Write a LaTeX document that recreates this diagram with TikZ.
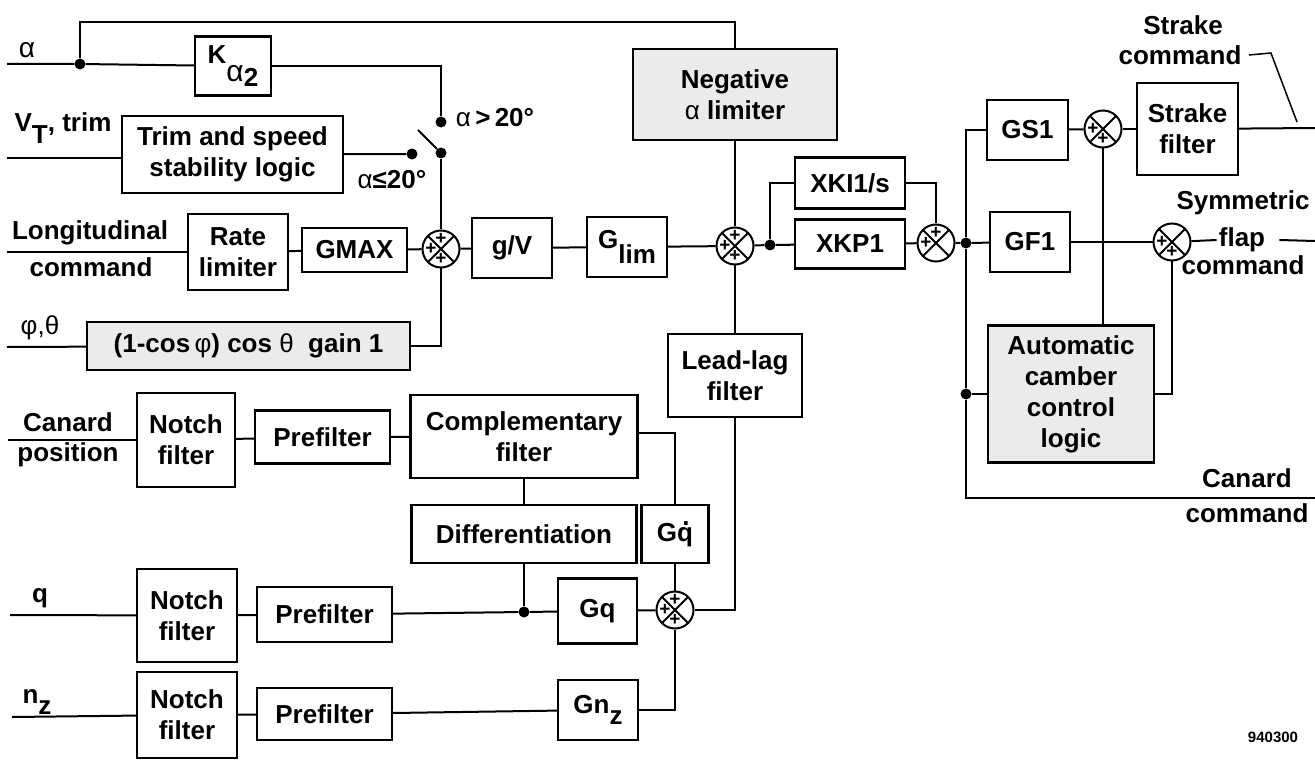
\documentclass[tikz,border=0pt]{standalone}
\usepackage{fontspec}
\setmainfont{Liberation Sans}
\newcommand{\lowsub}[2][0.45em]{\raisebox{-#1}{#2}}
\newcommand{\dotq}{\makebox[0pt][l]{\hspace{0.2em}\raisebox{0.62em}{.}}q}
\begin{document}
\begin{tikzpicture}[x=1pt, y=-1pt,
    font=\bfseries\fontsize{26}{31}\selectfont,
    blk/.style={draw, line width=2.4pt, align=center, inner sep=2pt},
    shd/.style={blk, fill=black!8},
    sumjn/.style={circle, draw, line width=2pt, minimum size=37pt, inner sep=0pt,
        path picture={\draw[line width=1.8pt]
            (path picture bounding box.north west) -- (path picture bounding box.south east)
            (path picture bounding box.north east) -- (path picture bounding box.south west);}},
    dot/.style={circle, fill, inner sep=0pt, minimum size=11pt},
    pls/.style={inner sep=0pt, font=\bfseries\fontsize{19}{19}\selectfont},
    lnk/.style={line width=2pt}]
    \useasboundingbox (0,0) rectangle (1315,762);

    % Nodes
    \node[blk, minimum width=76pt, minimum height=59pt] (ka) at (233,66) {K\lowsub[0.7em]{\mdseries\fontsize{30}{30}\selectfont α}\lowsub[0.9em]{2}};
    \node[blk, minimum width=221pt, minimum height=77pt] (trim) at (232.5,154.5) {Trim and speed\\stability logic};
    \node[blk, minimum width=100pt, minimum height=76pt] (rate) at (238,252) {Rate\\limiter};
    \node[blk, minimum width=105pt, minimum height=44pt] (gmax) at (354.5,250) {GMAX};
    \node[shd, minimum width=323pt, minimum height=48pt] (phth) at (248.5,346) {(1-cos\,{\mdseries φ}) cos {\mdseries θ}\ \ gain 1};
    \node[blk, minimum width=80pt, minimum height=60pt] (gv) at (512,248) {g/V};
    \node[blk, minimum width=80pt, minimum height=60pt] (glim) at (627,247) {G\lowsub[0.6em]{lim}};
    \node[shd, minimum width=204pt, minimum height=91pt] (neglim) at (735,94.5) {Negative\\{\mdseries α} limiter};
    \node[blk, minimum width=134pt, minimum height=83pt] (leadlag) at (735,375.5) {Lead-lag\\filter};
    \node[blk, minimum width=110pt, minimum height=51pt] (xki) at (850,183) {XKI1/s};
    \node[blk, minimum width=110pt, minimum height=49pt] (xkp) at (850,244) {XKP1};
    \node[blk, minimum width=81pt, minimum height=60pt] (gs1) at (1027.5,130) {GS1};
    \node[blk, minimum width=101pt, minimum height=92pt] (strf) at (1187.5,129) {Strake\\filter};
    \node[blk, minimum width=80pt, minimum height=60pt] (gf1) at (1030,242) {GF1};
    \node[shd, minimum width=166pt, minimum height=137pt] (acl) at (1071,394) {Automatic\\camber\\control\\logic};

    \node[blk, minimum width=98pt, minimum height=94pt] (notch1) at (186,440) {Notch\\filter};
    \node[blk, minimum width=135pt, minimum height=53pt] (pre1) at (322.5,437) {Prefilter};
    \node[blk, minimum width=227pt, minimum height=83pt] (comp) at (524,436.5) {Complementary\\filter};
    \node[blk, minimum width=225pt, minimum height=58pt] (diff) at (524,534) {Differentiation};
    \node[blk, minimum width=67pt, minimum height=58pt] (gqd) at (675,534) {G\dotq};
    \node[blk, minimum width=79pt, minimum height=65pt] (gq) at (597.5,611) {Gq};
    \node[blk, minimum width=80pt, minimum height=60pt] (gnz) at (598,710) {Gn\lowsub{z}};
    \node[blk, minimum width=100pt, minimum height=93pt] (notch2) at (187,615.5) {Notch\\filter};
    \node[blk, minimum width=135pt, minimum height=55pt] (pre2) at (324.5,614.5) {Prefilter};
    \node[blk, minimum width=100pt, minimum height=86pt] (notch3) at (187,715) {Notch\\filter};
    \node[blk, minimum width=135pt, minimum height=52pt] (pre3) at (324.5,714) {Prefilter};

    % Summing junctions
    \node[sumjn] (s1) at (441,249) {};
    \node[sumjn] (s2) at (735,246) {};
    \node[sumjn] (si) at (936,243) {};
    \node[sumjn] (ss) at (1103,129) {};
    \node[sumjn] (sf) at (1172,242) {};
    \node[sumjn] (s3) at (675,610) {};
    \foreach \s/\dx/\dy in {s1/0/10, s1/-10/0, s1/0/-10, s2/0/10, s2/-10/0, s2/0/-10,
        s3/0/10, s3/-10/0, s3/0/-10, si/0/10, si/-10/0, ss/-10/0, ss/0/-10, sf/-10/0, sf/0/-10}
        \node[pls] at ([xshift=\dx pt, yshift=\dy pt]\s.center) {+};

    % Junction dots and switch
    \node[dot] (da) at (80,64) {};
    \node[dot] (c1) at (441,122) {};
    \node[dot] (c2) at (412,154) {};
    \node[dot] (c3) at (441,153) {};
    \coordinate (sw) at (418,130);
    \node[dot] (d2) at (770,245) {};
    \node[dot] (d3) at (966,243) {};
    \node[dot] (d4) at (966,394) {};
    \node[dot] (d5) at (524,612) {};

    % Inputs and outputs
    \coordinate (ina) at (7,64);
    \coordinate (invt) at (7,158);
    \coordinate (inlong) at (7,252);
    \coordinate (inph) at (7,347);
    \coordinate (incan) at (8,440);
    \coordinate (inq) at (10,615);
    \coordinate (innz) at (12,717);
    \coordinate (outs) at (1315,128);
    \coordinate (outf) at (1315,241);
    \coordinate (outc) at (1315,498);
    \coordinate (strp) at (1297,122);

    % Annotations
    \node (lalpha) at (27,50) {\mdseries\fontsize{28}{28}\selectfont α};
    \node (lvt) at (63,128) {V\lowsub{T}, trim};
    \node (llong1) at (90,233) {Longitudinal};
    \node (llong2) at (91,267) {command};
    \node (lphi) at (40,328) {\mdseries φ,θ};
    \node (lcan1) at (68,422) {Canard};
    \node (lcan2) at (68,455) {position};
    \node (lq) at (40,598) {q};
    \node (lnz) at (37,702) {n\lowsub{z}};
    \node (lgt) at (495,118) {{\mdseries α}\,>\,20°};
    \node (lle) at (392,180) {{\mdseries α}≤20°};
    \node (lstr1) at (1183,25) {Strake};
    \node (lstr2) at (1180,55) {command};
    \node (lsym1) at (1243,203) {Symmetric};
    \node[inner xsep=2pt] (lflap) at (1242,240) {flap};
    \node (lsym2) at (1243,265) {command};
    \node (lcc1) at (1247,478) {Canard};
    \node (lcc2) at (1247,513) {command};
    \node[font=\bfseries\fontsize{15}{15}\selectfont] (lnum) at (1273,737) {940300};

    % Lines
    \draw[lnk] (ina) -- (da) -- (ka);
    \draw[lnk] (da) -- (da |- 0,22) -| (neglim);
    \draw[lnk] (ka) -| (c1);
    \draw[lnk] (invt) -- (invt -| trim.west);
    \draw[lnk] (trim) -- (c2);
    \draw[lnk] (c3) -- (sw);
    \draw[lnk] (c3) -- (s1);
    \draw[lnk] (inlong) -- (rate);
    \draw[lnk] (rate) -- (gmax);
    \draw[lnk] (gmax) -- (s1);
    \draw[lnk] (inph) -- (phth);
    \draw[lnk] (phth) -| (s1);
    \draw[lnk] (s1) -- (gv);
    \draw[lnk] (gv) -- (glim);
    \draw[lnk] (glim) -- (s2);
    \draw[lnk] (neglim) -- (s2);
    \draw[lnk] (leadlag) -- (s2);
    \draw[lnk] (s2) -- (d2) -- (xkp);
    \draw[lnk] (d2) |- (xki);
    \draw[lnk] (xki) -| (si);
    \draw[lnk] (xkp) -- (si);
    \draw[lnk] (si) -- (d3) -- (gf1);
    \draw[lnk] (d3) |- (gs1);
    \draw[lnk] (gs1) -- (ss);
    \draw[lnk] (ss) -- (strf);
    \draw[lnk] (strf) -- (outs);
    \draw[line width=1.5pt] ([xshift=4pt]lstr2.east) -- ++(22,-2) -- (strp);
    \draw[lnk] (ss) -- (ss |- acl.north);
    \draw[lnk] (gf1) -- (sf);
    \draw[lnk] (sf) -- (lflap.west);
    \draw[lnk] ([xshift=12pt]lflap.east) -- (outf);
    \draw[lnk] (acl) -| (sf);
    \draw[lnk] (d3) -- (d4) -- (d4 |- outc) -- (outc);
    \draw[lnk] (d4) -- (acl);

    \draw[lnk] (incan) -- (notch1);
    \draw[lnk] (notch1) -- (pre1);
    \draw[lnk] (pre1) -- (comp);
    \draw[lnk] ([yshift=4pt]comp.east) -| (gqd);
    \draw[lnk] (comp.south) -- (comp.south |- diff.north);
    \draw[lnk] (diff) -- (d5);
    \draw[lnk] (inq) -- (notch2);
    \draw[lnk] (notch2) -- (pre2);
    \draw[lnk] (pre2) -- (d5) -- (gq);
    \draw[lnk] (gq) -- (s3);
    \draw[lnk] (gqd) -- (s3);
    \draw[lnk] (innz) -- (notch3);
    \draw[lnk] (notch3) -- (pre3);
    \draw[lnk] (pre3) -- (gnz);
    \draw[lnk] (gnz) -| (s3);
    \draw[lnk] (s3) -| (leadlag);
\end{tikzpicture}
\end{document}
